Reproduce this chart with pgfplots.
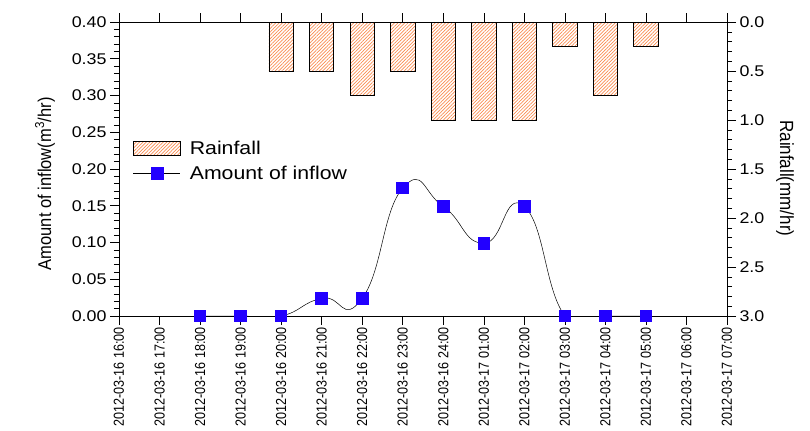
\documentclass[border=0pt]{standalone}
\usepackage{pgfplots}
\pgfplotsset{compat=1.18}
\usetikzlibrary{patterns.meta}
\usepackage{fontspec}
\setmainfont{Liberation Sans}
\newfontfamily\sfont{Liberation Sans}[FakeStretch=1.15]
\definecolor{hatch}{RGB}{250,140,80}
\definecolor{mblue}{RGB}{34,0,255}
\pgfplotsset{
  myaxis/.style={
    scale only axis, width=608bp, height=294bp,
    xmin=0, xmax=15, clip mode=individual,
    tick align=outside, major tick length=9bp, minor tick length=5bp,
    every tick/.style={black, line width=0.6pt},
    axis line style={line width=0.7pt},
    /pgf/number format/assume math mode=true,
  }
}
\begin{document}
\begin{tikzpicture}
\path[use as bounding box] (-119bp,-115bp) rectangle (691bp,316bp);
\begin{axis}[myaxis,
  ymin=0, ymax=3, y dir=reverse,
  axis y line*=right, axis x line=none,
  ytick={0,0.5,1,1.5,2,2.5,3}, minor y tick num=4,
  yticklabel style={font=\sfont\fontsize{15.5bp}{18bp}\selectfont, /pgf/number format/.cd, fixed, fixed zerofill, precision=1},
  ylabel={Rainfall(mm/hr)},
  ylabel style={at={(axis description cs:1.0954,0.468)}, anchor=center, rotate=180, yscale=1.12, font=\fontsize{17bp}{19bp}\selectfont},
]
\addplot[ybar, bar width=0.6, bar shift=0pt, draw=black, line width=0.7pt,
  pattern={Lines[angle=45,distance=2.4bp,line width=0.7bp]}, pattern color=hatch]
  coordinates {(4,0.5) (5,0.5) (6,0.75) (7,0.5) (8,1) (9,1) (10,1) (11,0.25) (12,0.75) (13,0.25)};
\end{axis}
\begin{axis}[myaxis,
  ymin=0, ymax=0.4,
  ytick={0,0.05,0.1,0.15,0.2,0.25,0.3,0.35,0.4}, minor y tick num=4,
  ytick pos=left,
  yticklabel style={font=\sfont\fontsize{15.5bp}{18bp}\selectfont, /pgf/number format/.cd, fixed, fixed zerofill, precision=2},
  xtick={0,...,15}, xtick pos=both, xticklabel pos=lower,
  xticklabels={2012-03-16 16:00,2012-03-16 17:00,2012-03-16 18:00,2012-03-16 19:00,2012-03-16 20:00,2012-03-16 21:00,2012-03-16 22:00,2012-03-16 23:00,2012-03-16 24:00,2012-03-17 01:00,2012-03-17 02:00,2012-03-17 03:00,2012-03-17 04:00,2012-03-17 05:00,2012-03-17 06:00,2012-03-17 07:00},
  xticklabel style={rotate=90, yscale=1.15, anchor=east, inner sep=2bp, font=\fontsize{12.6bp}{15bp}\selectfont},
  ylabel={Amount of inflow(m\textsuperscript{3}/hr)},
  ylabel style={at={(axis description cs:-0.1217,0.45)}, anchor=center, yscale=1.12, font=\fontsize{16.5bp}{19bp}\selectfont},
  legend style={at={(axis description cs:0.018,0.61)}, anchor=north west, draw=none, fill=none,
    font=\sfont\fontsize{18.5bp}{21bp}\selectfont, row sep=6bp, column sep=7bp},
  legend cell align=left,
]
\addlegendimage{legend image code/.code={\draw[black,line width=0.7pt,pattern={Lines[angle=45,distance=2.4bp,line width=0.7bp]},pattern color=hatch] (0bp,-7bp) rectangle (47bp,7bp);}}
\addlegendentry{Rainfall}
\addplot[black, line width=0.5pt, smooth, tension=0.9, mark=square*, mark size=5.8bp,
  mark options={draw=mblue, fill=mblue, line width=0pt},
  legend image code/.code={\draw[black,line width=0.6pt] (0bp,0bp)--(47bp,0bp); \fill[mblue] (18bp,-6bp) rectangle (30bp,6bp);}]
  coordinates {(2,0) (3,0) (4,0) (5,0.024) (6,0.024) (7,0.174) (8,0.149) (9,0.099) (10,0.149) (11,0) (12,0) (13,0)};
\addlegendentry{Amount of inflow}
\end{axis}
\end{tikzpicture}
\end{document}
